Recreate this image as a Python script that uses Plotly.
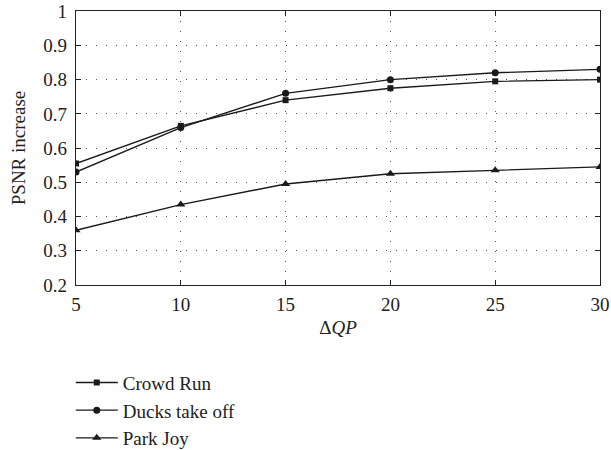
import plotly.graph_objects as go

dqp = [5, 10, 15, 20, 25, 30]
crowd_run = [0.555, 0.665, 0.74, 0.775, 0.795, 0.80]
ducks_take_off = [0.53, 0.66, 0.76, 0.80, 0.82, 0.83]
park_joy = [0.36, 0.435, 0.495, 0.525, 0.535, 0.545]
y_ticks = [0.2, 0.3, 0.4, 0.5, 0.6, 0.7, 0.8, 0.9, 1.0]
y_tick_text = ["0.2", "0.3", "0.4", "0.5", "0.6", "0.7", "0.8", "0.9", "1"]

FONT = "Liberation Serif"
FS = 19

fig = go.Figure()
series = [
    ("Crowd Run", crowd_run, "square", 6),
    ("Ducks take off", ducks_take_off, "circle", 7),
    ("Park Joy", park_joy, "triangle-up", 8),
]
for name, vals, sym, size in series:
    fig.add_trace(go.Scatter(
        x=dqp, y=vals, name=name, mode="lines+markers",
        line=dict(color="#1a1a1a", width=1.4),
        marker=dict(symbol=sym, size=size, color="#1a1a1a"),
    ))

axis_common = dict(
    showline=True, linecolor="#222", linewidth=1.3, mirror="allticks",
    ticks="inside", ticklen=5, tickcolor="#222",
    showgrid=True, gridcolor="#555", griddash="1px,9px", gridwidth=1.2,
    zeroline=False, tickfont=dict(family=FONT, size=FS, color="#222"),
    ticklabeloverflow="allow",
)

fig.update_xaxes(range=[5, 30], tickvals=dqp, ticklabelstandoff=2, automargin="bottom",
                 title=dict(text="Δ<i>QP</i>", font=dict(family=FONT, size=FS, color="#222"), standoff=6),
                 **axis_common)
fig.update_yaxes(range=[0.2, 1.0005], tickvals=y_ticks, ticktext=y_tick_text, ticklabelstandoff=4,
                 automargin="left",
                 title=dict(text="PSNR increase", font=dict(family=FONT, size=FS, color="#222"), standoff=12),
                 **axis_common)

fig.update_layout(
    width=611, height=450,
    margin=dict(l=76, r=11, t=11, b=165),
    plot_bgcolor="white", paper_bgcolor="white",
    font=dict(family=FONT, size=FS, color="#222"),
    legend=dict(x=-0.010, y=0.192, xanchor="left", yanchor="top", yref="container",
                font=dict(family=FONT, size=FS, color="#222"),
                bgcolor="rgba(0,0,0,0)", tracegroupgap=0, itemwidth=42),
    showlegend=True,
)

fig.write_html("out.html", config={"displayModeBar": False},
               post_script="document.body.style.margin='0';document.body.style.overflow='hidden';")
